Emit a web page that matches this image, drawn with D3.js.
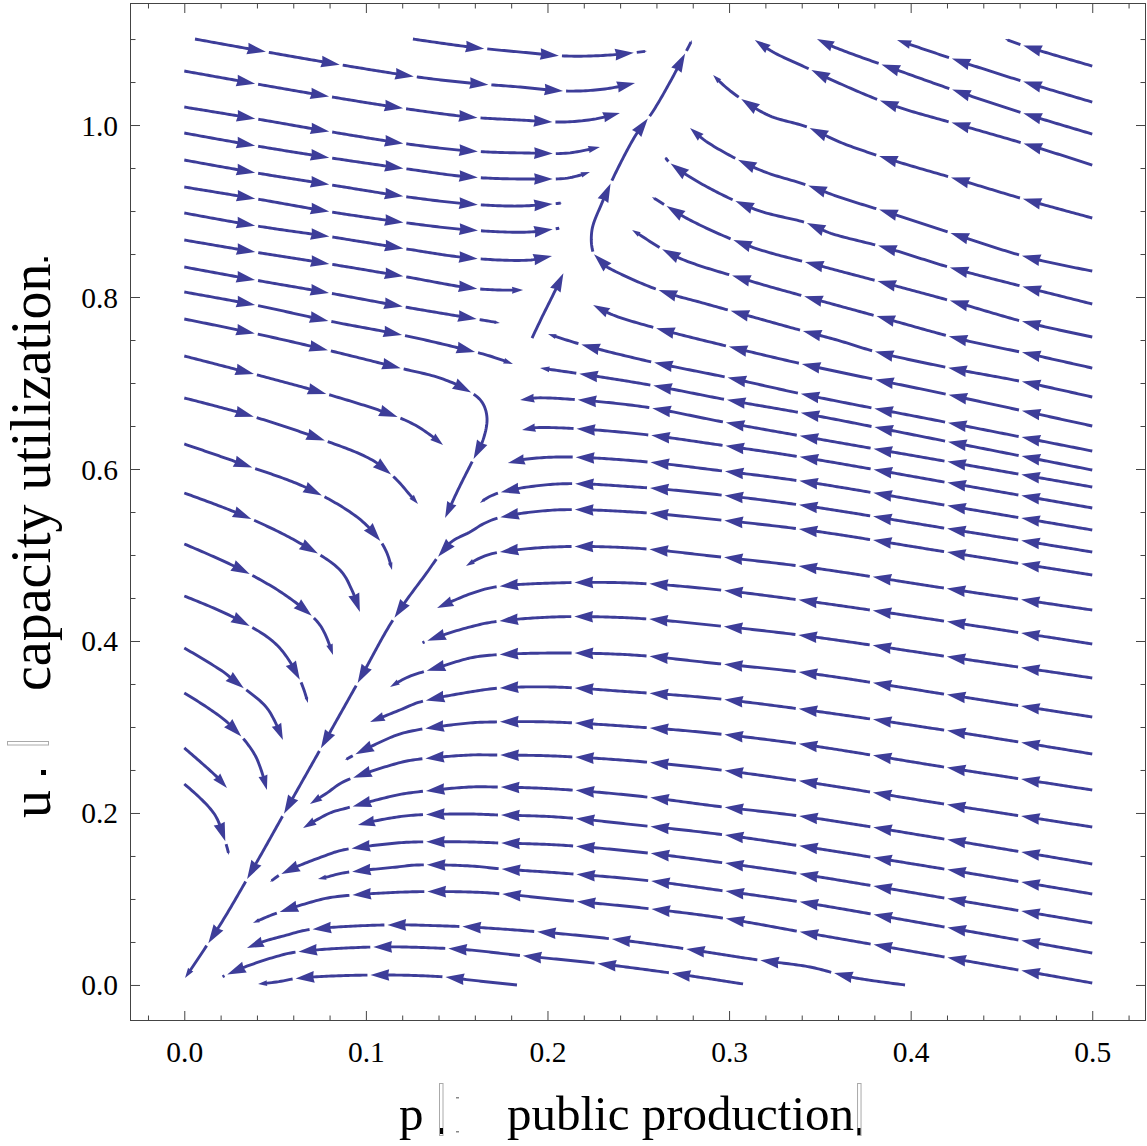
<!DOCTYPE html>
<html><head><meta charset="utf-8">
<script src="https://cdn.jsdelivr.net/npm/d3@7"></script>
<style>body{margin:0;background:#fff}</style>
</head><body>
<svg id="chart" width="1147" height="1146"></svg>
<script>
// ---------- data ----------
const xMajorTicks = [0, 0.1, 0.2, 0.3, 0.4, 0.5];
const yMajorTicks = [0, 0.2, 0.4, 0.6, 0.8, 1.0];
const xTickLabels = ["0.0", "0.1", "0.2", "0.3", "0.4", "0.5"];
const yTickLabels = ["0.0", "0.2", "0.4", "0.6", "0.8", "1.0"];
const xLabelHead = "p";
const xLabelText = "public production";
const yLabelHead = "u";
const yLabelText = "capacity utilization";

// streamlines flowing to the right (upper-left region), upstream point first: [p, u]
const leftStreams = [
  [[0.1259,1.1],[0.1573,1.0907],[0.1849,1.0849],[0.2107,1.0802],[0.2344,1.0814],[0.2548,1.0860]],
  [[0.0059,1.1],[0.0455,1.0849],[0.0868,1.0698],[0.1287,1.0558],[0.1573,1.0488],[0.1849,1.0442],[0.2107,1.0395],[0.2317,1.0419],[0.2482,1.0488]],
  [[0,1.0628],[0.0400,1.0477],[0.0813,1.0326],[0.1232,1.0186],[0.1573,1.0093],[0.1849,1.0058],[0.2085,1.0035],[0.2262,1.0070],[0.2399,1.0140]],
  [[0,1.0209],[0.0400,1.0070],[0.0813,0.9919],[0.1232,0.9779],[0.1573,0.9698],[0.1904,0.9674],[0.2113,0.9674],[0.2289,0.9744]],
  [[0,0.9907],[0.0400,0.9756],[0.0813,0.9616],[0.1232,0.9488],[0.1573,0.9395],[0.1904,0.9372],[0.2113,0.9384],[0.2234,0.9453]],
  [[0,0.9593],[0.0400,0.9442],[0.0813,0.9302],[0.1232,0.9163],[0.1573,0.9081],[0.1849,0.9058],[0.2080,0.9093]],
  [[0,0.9279],[0.0400,0.9140],[0.0813,0.8988],[0.1232,0.8860],[0.1573,0.8779],[0.1904,0.8756],[0.2069,0.8802]],
  [[0,0.8977],[0.0400,0.8826],[0.0813,0.8698],[0.1226,0.8558],[0.1573,0.8453],[0.1904,0.8430],[0.2025,0.8477]],
  [[0,0.8663],[0.0389,0.8523],[0.0802,0.8384],[0.1226,0.8233],[0.1573,0.8105],[0.1738,0.8081],[0.1866,0.8081]],
  [[0,0.8349],[0.0389,0.8198],[0.0797,0.8047],[0.1215,0.7884],[0.1573,0.7756],[0.1738,0.7698]],
  [[0,0.8058],[0.0389,0.7907],[0.0797,0.7721],[0.1226,0.7547],[0.1557,0.7384],[0.1683,0.7314],[0.1810,0.7221]],
  [[0,0.7744],[0.0378,0.7581],[0.0786,0.7384],[0.1188,0.7174],[0.1408,0.7058],[0.1557,0.6919],[0.1639,0.6779],[0.1667,0.6593],[0.1645,0.6337],[0.1590,0.6105],[0.1507,0.5756],[0.1436,0.5430]],
  [[0,0.7314],[0.0362,0.7116],[0.0747,0.6895],[0.1116,0.6651],[0.1270,0.6512],[0.1392,0.6337],[0.1425,0.6279]],
  [[0,0.6826],[0.0351,0.6628],[0.0720,0.6372],[0.1034,0.6105],[0.1160,0.5895],[0.1243,0.5698],[0.1287,0.5593]],
  [[0,0.6291],[0.0334,0.6047],[0.0676,0.5779],[0.0951,0.5442],[0.1067,0.5198],[0.1116,0.5023],[0.1144,0.4826]],
  [[0,0.5721],[0.0318,0.5465],[0.0626,0.5151],[0.0857,0.4826],[0.0923,0.4593],[0.0967,0.4337]],
  [[0,0.5128],[0.0307,0.4837],[0.0571,0.4512],[0.0747,0.4186],[0.0819,0.3837]],
  [[0,0.4523],[0.0279,0.4267],[0.0510,0.3953],[0.0637,0.3547],[0.0681,0.3279]],
  [[0,0.3919],[0.0224,0.3628],[0.0268,0.3547],[0.0455,0.3221],[0.0543,0.2849]],
  [[0,0.3395],[0.0235,0.3058],[0.0389,0.2674],[0.0455,0.2267]],
  [[0,0.2756],[0.0180,0.2419],[0.0235,0.2291]],
  [[0,0.2337],[0.0169,0.1977],[0.0246,0.1512]]
];

// short piece on the unstable branch near the saddle
const saddleStreams = [
  [[0.1915,0.7523],[0.1970,0.7767],[0.2025,0.8000],[0.2096,0.8314]]
];

// streamlines entering from the right edge (flowing left), upstream point first
const rightStreams = [
  [[0.5,1.0686],[0.4646,1.0907],[0.4519,1.1]],
  [[0.5,1.0267],[0.4629,1.0500],[0.4283,1.0733],[0.3925,1.0988]],
  [[0.5,0.9895],[0.4652,1.0116],[0.4283,1.0372],[0.3925,1.0640],[0.3578,1.0907],[0.3484,1.1]],
  [[0.5,0.9535],[0.4652,0.9767],[0.4272,1.0],[0.3897,1.0233],[0.3567,1.0523],[0.3429,1.0663],[0.3242,1.0849],[0.3142,1.0988]],
  [[0.5,0.8919],[0.4640,0.9128],[0.4272,0.9360],[0.3897,0.9593],[0.3622,0.9791],[0.3429,0.9977],[0.3214,1.0116],[0.3022,1.0372],[0.2939,1.0523],[0.2912,1.0581]],
  [[0.5,0.8302],[0.4640,0.8465],[0.4255,0.8721],[0.3886,0.8977],[0.3605,0.9163],[0.3429,0.9302],[0.3170,0.9477],[0.2879,0.9802],[0.2785,0.9965]],
  [[0.5,0.7919],[0.4629,0.8116],[0.4227,0.8337],[0.3869,0.8570],[0.3556,0.8744],[0.3429,0.8860],[0.3153,0.9012],[0.2840,0.9326],[0.2675,0.9558],[0.2647,0.9628]],
  [[0.5,0.7535],[0.4629,0.7709],[0.4244,0.7942],[0.3858,0.8163],[0.3484,0.8372],[0.3126,0.8581],[0.2785,0.8895],[0.2603,0.9128],[0.2575,0.9163]],
  [[0.5,0.7174],[0.4629,0.7349],[0.4294,0.7500],[0.3831,0.7767],[0.3429,0.8000],[0.3099,0.8198],[0.2713,0.8465],[0.2493,0.8744],[0.2466,0.8779]],
  [[0.5,0.6837],[0.4624,0.7012],[0.4216,0.7174],[0.3814,0.7360],[0.3594,0.7500],[0.3429,0.7593],[0.2857,0.7930],[0.2658,0.8047],[0.2438,0.8233],[0.2289,0.8407],[0.2251,0.8523],[0.2245,0.8779],[0.2300,0.9093],[0.2383,0.9477],[0.2493,0.9907],[0.2575,1.0140],[0.2675,1.0500],[0.2796,1.0988]],
  [[0.5,0.6500],[0.4216,0.6860],[0.3429,0.7209],[0.2895,0.7477],[0.2636,0.7616],[0.2361,0.7791],[0.2251,0.7907]],
  [[0.5,0.6209],[0.4216,0.6535],[0.3429,0.6860],[0.3005,0.7058],[0.2575,0.7244],[0.2196,0.7442],[0.2003,0.7570]],
  [[0.5,0.5988],[0.4216,0.6314],[0.3429,0.6640],[0.2994,0.6802],[0.2564,0.6977],[0.2151,0.7116],[0.1959,0.7174]],
  [[0.5,0.5791],[0.4216,0.6081],[0.3429,0.6372],[0.2967,0.6547],[0.2537,0.6721],[0.2107,0.6814],[0.1931,0.6826],[0.1849,0.6802]],
  [[0.5,0.5547],[0.4216,0.5837],[0.3429,0.6128],[0.2950,0.6279],[0.2509,0.6407],[0.2085,0.6477],[0.1915,0.6477],[0.1860,0.6453]],
  [[0.5,0.5291],[0.4216,0.5570],[0.3429,0.5849],[0.2923,0.5988],[0.2493,0.6093],[0.2069,0.6140],[0.1849,0.6105],[0.1782,0.6070]],
  [[0.5,0.5035],[0.4216,0.5302],[0.3429,0.5570],[0.2906,0.5709],[0.2482,0.5791],[0.2058,0.5826],[0.1749,0.5733],[0.1667,0.5663],[0.1628,0.5605]],
  [[0.5,0.4767],[0.4161,0.5047],[0.3429,0.5291],[0.2895,0.5419],[0.2471,0.5500],[0.2042,0.5523],[0.1749,0.5442],[0.1656,0.5372],[0.1573,0.5267],[0.1463,0.5140],[0.1326,0.4767],[0.1149,0.4244],[0.0967,0.3558],[0.0775,0.2837],[0.0582,0.2116],[0.0390,0.1395],[0.0197,0.0698],[0.0004,0.0081]],
  [[0.5,0.4360],[0.4216,0.4605],[0.3429,0.4860],[0.2906,0.4988],[0.2471,0.5081],[0.2031,0.5093],[0.1711,0.5023],[0.1628,0.4965],[0.1551,0.4872]],
  [[0.5,0.3965],[0.4216,0.4221],[0.3429,0.4465],[0.2895,0.4605],[0.2466,0.4674],[0.2031,0.4674],[0.1711,0.4628],[0.1573,0.4547],[0.1392,0.4384]],
  [[0.5,0.3570],[0.4216,0.3814],[0.3429,0.4058],[0.2895,0.4186],[0.2466,0.4267],[0.2031,0.4279],[0.1700,0.4221],[0.1573,0.4163],[0.1408,0.4058],[0.1309,0.3977]],
  [[0.5,0.3116],[0.4216,0.3372],[0.3429,0.3628],[0.2906,0.3744],[0.2471,0.3837],[0.2031,0.3860],[0.1700,0.3837],[0.1573,0.3802],[0.1408,0.3698],[0.1232,0.3581],[0.1133,0.3465]],
  [[0.5,0.2686],[0.4216,0.2953],[0.3429,0.3198],[0.2895,0.3337],[0.2466,0.3407],[0.2025,0.3465],[0.1738,0.3453],[0.1573,0.3407],[0.1298,0.3291],[0.1188,0.3198],[0.1023,0.3058]],
  [[0.5,0.2267],[0.4216,0.2523],[0.3429,0.2791],[0.2895,0.2930],[0.2493,0.3000],[0.2025,0.3058],[0.1700,0.3058],[0.1573,0.3047],[0.1281,0.2965],[0.1171,0.2907],[0.0967,0.2709],[0.0885,0.2616]],
  [[0.5,0.1837],[0.4216,0.2093],[0.3429,0.2360],[0.2906,0.2512],[0.2471,0.2605],[0.2031,0.2663],[0.1711,0.2674],[0.1573,0.2674],[0.1259,0.2616],[0.1160,0.2570],[0.0874,0.2360],[0.0786,0.2233],[0.0692,0.2105]],
  [[0.5,0.1407],[0.4216,0.1686],[0.3429,0.1953],[0.2923,0.2081],[0.2493,0.2198],[0.2042,0.2279],[0.1722,0.2302],[0.1573,0.2302],[0.1281,0.2244],[0.1171,0.2209],[0.0896,0.2058],[0.0802,0.2000],[0.0654,0.1826]],
  [[0.5,0.1058],[0.4216,0.1337],[0.3429,0.1605],[0.2934,0.1756],[0.2493,0.1860],[0.2053,0.1953],[0.1727,0.1977],[0.1573,0.1988],[0.1281,0.1977],[0.1171,0.1953],[0.1023,0.1895],[0.0956,0.1860]],
  [[0.5,0.0721],[0.4216,0.1000],[0.3429,0.1279],[0.2934,0.1430],[0.2498,0.1547],[0.2058,0.1628],[0.1738,0.1651],[0.1573,0.1663],[0.1281,0.1663],[0.1171,0.1651],[0.0874,0.1570],[0.0786,0.1512],[0.0543,0.1302],[0.0472,0.1198]],
  [[0.5,0.0372],[0.4216,0.0663],[0.3429,0.0953],[0.2934,0.1105],[0.2520,0.1221],[0.2069,0.1302],[0.1749,0.1349],[0.1573,0.1384],[0.1281,0.1395],[0.1171,0.1372],[0.0874,0.1302],[0.0786,0.1256],[0.0736,0.1233]],
  [[0.5,0.0023],[0.4216,0.0314],[0.3429,0.0605],[0.2961,0.0779],[0.2526,0.0895],[0.2080,0.0988],[0.1755,0.1058],[0.1573,0.1081],[0.1215,0.1081],[0.0874,0.1035],[0.0764,0.1000],[0.0510,0.0837],[0.0428,0.0767],[0.0378,0.0721]]
];

// streamlines entering from the bottom edge (flowing left)
const bottomStreams = [
  [[0.3969,0],[0.3666,0.0093],[0.3445,0.0209],[0.3159,0.0291],[0.2730,0.0430],[0.2306,0.0547],[0.1893,0.0628],[0.1573,0.0674],[0.1436,0.0686],[0.1105,0.0698],[0.0676,0.0640],[0.0566,0.0581],[0.0428,0.0500],[0.0345,0.0430]],
  [[0.3077,0.0012],[0.2675,0.0140],[0.2251,0.0256],[0.1821,0.0349],[0.1573,0.0407],[0.1381,0.0430],[0.1050,0.0442],[0.0621,0.0384],[0.0499,0.0326],[0.0290,0.0174],[0.0208,0.0093]],
  [[0.1832,0],[0.1573,0.0058],[0.1436,0.0093],[0.1078,0.0116],[0.0637,0.0081],[0.0510,0.0035],[0.0406,0.0012]]
];

// ---------- drawing ----------
const svg = d3.select("#chart");
const x = d3.scaleLinear().domain([-0.0299, 0.5296]).range([130, 1146]);
const y = d3.scaleLinear().domain([-0.0419, 1.1419]).range([1021, 3]);

const COLOR = "rgb(61,61,153)";
const AXIS = "#444";
const P = 75, GAP = 3, AH = 19, LW = 2.9;

svg.append("rect").attr("width", 1147).attr("height", 1146).attr("fill", "#fff");
svg.append("defs").append("clipPath").attr("id", "clip")
  .append("rect").attr("x", 130).attr("y", 3).attr("width", 1016).attr("height", 1018);

const g = svg.append("g").attr("clip-path", "url(#clip)");
const lineGen = d3.line().x(d => x(d[0])).y(d => y(d[1])).curve(d3.curveCatmullRom.alpha(0.5));

function drawStream(pts) {
  const path = g.append("path").attr("d", lineGen(pts)).attr("fill", "none").attr("stroke", "none");
  const node = path.node();
  const L = node.getTotalLength();
  const pt = s => { const p = node.getPointAtLength(Math.max(0, Math.min(L, s))); return [p.x, p.y]; };
  for (let s0 = 0; s0 < L - 0.8; s0 += P) {
    const s1 = Math.min(s0 + P - GAP, L);
    const len = s1 - s0;
    const ah = Math.min(AH, len * 0.26);
    const hw = ah * 0.31;
    const lineEnd = s1 - ah * 0.75;
    if (lineEnd > s0 + 0.5) {
      const n = Math.max(2, Math.ceil((lineEnd - s0) / 2.5));
      const seg = d3.range(n + 1).map(i => pt(s0 + (lineEnd - s0) * i / n));
      g.append("path").attr("d", d3.line()(seg)).attr("fill", "none")
        .attr("stroke", COLOR).attr("stroke-width", LW);
    }
    const tip = pt(s1), base = pt(s1 - Math.max(ah, 0.5));
    let dx = tip[0] - base[0], dy = tip[1] - base[1];
    const dl = Math.hypot(dx, dy) || 1; dx /= dl; dy /= dl;
    const bx = tip[0] - dx * ah, by = tip[1] - dy * ah;
    const poly = [tip, [bx - dy * hw, by + dx * hw], [bx + dx * ah * 0.06, by + dy * ah * 0.06], [bx + dy * hw, by - dx * hw]];
    g.append("path").attr("d", "M" + poly.map(p => p.join(",")).join("L") + "Z").attr("fill", COLOR);
  }
  path.remove();
}
[...leftStreams, ...saddleStreams, ...rightStreams, ...bottomStreams].forEach(drawStream);

// ---------- frame and ticks ----------
const xMinor = d3.range(-0.02, 0.5201, 0.02).filter(v => !xMajorTicks.some(m => Math.abs(m - v) < 1e-6));
const yMinor = d3.range(0.05, 1.1001, 0.05).filter(v => !yMajorTicks.some(m => Math.abs(m - v) < 1e-6));

function styleAxis(sel) {
  sel.select(".domain").remove();
  sel.selectAll("line").attr("stroke", AXIS).attr("stroke-width", 1);
}
const fmtX = d => xTickLabels[xMajorTicks.indexOf(d)];
const fmtY = d => yTickLabels[yMajorTicks.indexOf(d)];
const serif = "Liberation Serif, Times New Roman, serif";

// bottom
svg.append("g").attr("transform", "translate(0,1021)")
  .call(d3.axisBottom(x).tickValues(xMajorTicks).tickFormat(fmtX).tickSizeInner(-10).tickSizeOuter(0).tickPadding(0))
  .call(styleAxis)
  .call(s => s.selectAll("text").attr("dy", null).attr("y", 41)
    .attr("font-family", serif).attr("font-size", 29.5).attr("fill", "#000"));
svg.append("g").attr("transform", "translate(0,1021)")
  .call(d3.axisBottom(x).tickValues(xMinor).tickFormat("").tickSizeInner(-5.5).tickSizeOuter(0)).call(styleAxis);
// top
svg.append("g").attr("transform", "translate(0,3)")
  .call(d3.axisTop(x).tickValues(xMajorTicks).tickFormat("").tickSizeInner(-10).tickSizeOuter(0)).call(styleAxis);
svg.append("g").attr("transform", "translate(0,3)")
  .call(d3.axisTop(x).tickValues(xMinor).tickFormat("").tickSizeInner(-5.5).tickSizeOuter(0)).call(styleAxis);
// left
svg.append("g").attr("transform", "translate(130,0)")
  .call(d3.axisLeft(y).tickValues(yMajorTicks).tickFormat(fmtY).tickSizeInner(-10).tickSizeOuter(0).tickPadding(12))
  .call(styleAxis)
  .call(s => s.selectAll("text").attr("dy", null).attr("y", 10)
    .attr("font-family", serif).attr("font-size", 29.5).attr("fill", "#000"));
svg.append("g").attr("transform", "translate(130,0)")
  .call(d3.axisLeft(y).tickValues(yMinor).tickFormat("").tickSizeInner(-5.5).tickSizeOuter(0)).call(styleAxis);
// right
svg.append("g").attr("transform", "translate(1146,0)")
  .call(d3.axisRight(y).tickValues(yMajorTicks).tickFormat("").tickSizeInner(-10).tickSizeOuter(0)).call(styleAxis);
svg.append("g").attr("transform", "translate(1146,0)")
  .call(d3.axisRight(y).tickValues(yMinor).tickFormat("").tickSizeInner(-5.5).tickSizeOuter(0)).call(styleAxis);

svg.append("rect").attr("x", 130.5).attr("y", 3.5).attr("width", 1015).attr("height", 1017)
  .attr("fill", "none").attr("stroke", AXIS).attr("stroke-width", 1);

// ---------- axis labels ----------
svg.append("text").attr("x", 399).attr("y", 1130).attr("font-family", serif).attr("font-size", 49).text(xLabelHead);
const xl = svg.append("text").attr("x", 507).attr("y", 1130).attr("font-family", serif).attr("font-size", 49).text(xLabelText);
const xEnd = 507 + xl.node().getComputedTextLength();
// missing-glyph boxes as rendered in the original
svg.append("rect").attr("x", 439.5).attr("y", 1083.5).attr("width", 3.5).attr("height", 52).attr("fill", "none").attr("stroke", "#aaa").attr("stroke-width", 1);
svg.append("rect").attr("x", 440).attr("y", 1128).attr("width", 3).attr("height", 6).attr("fill", "#000");
svg.append("rect").attr("x", 456).attr("y", 1097).attr("width", 3).attr("height", 1.5).attr("fill", "#888");
svg.append("rect").attr("x", 456).attr("y", 1131).attr("width", 3).attr("height", 1.5).attr("fill", "#888");
svg.append("rect").attr("x", xEnd + 3.5).attr("y", 1083.5).attr("width", 3.5).attr("height", 52).attr("fill", "none").attr("stroke", "#aaa").attr("stroke-width", 1);
svg.append("rect").attr("x", xEnd + 3.5).attr("y", 1128).attr("width", 3).attr("height", 7).attr("fill", "#000");

const YB = 50, YFS = 56;
svg.append("text").attr("transform", `translate(${YB},818) rotate(-90)`).attr("font-family", serif).attr("font-size", YFS).text(yLabelHead);
const yl = svg.append("text").attr("transform", `translate(${YB},691) rotate(-90)`).attr("font-family", serif).attr("font-size", YFS).text(yLabelText);
const yEnd = 691 - yl.node().getComputedTextLength();
svg.append("rect").attr("x", YB - 9).attr("y", 770).attr("width", 5).attr("height", 5).attr("fill", "#000");
svg.append("rect").attr("x", 7.5).attr("y", 741.5).attr("width", YB - 9).attr("height", 3.5).attr("fill", "none").attr("stroke", "#aaa").attr("stroke-width", 1);
svg.append("rect").attr("x", YB - 6).attr("y", yEnd - 6).attr("width", 4).attr("height", 4).attr("fill", "#000");
</script>
</body></html>
